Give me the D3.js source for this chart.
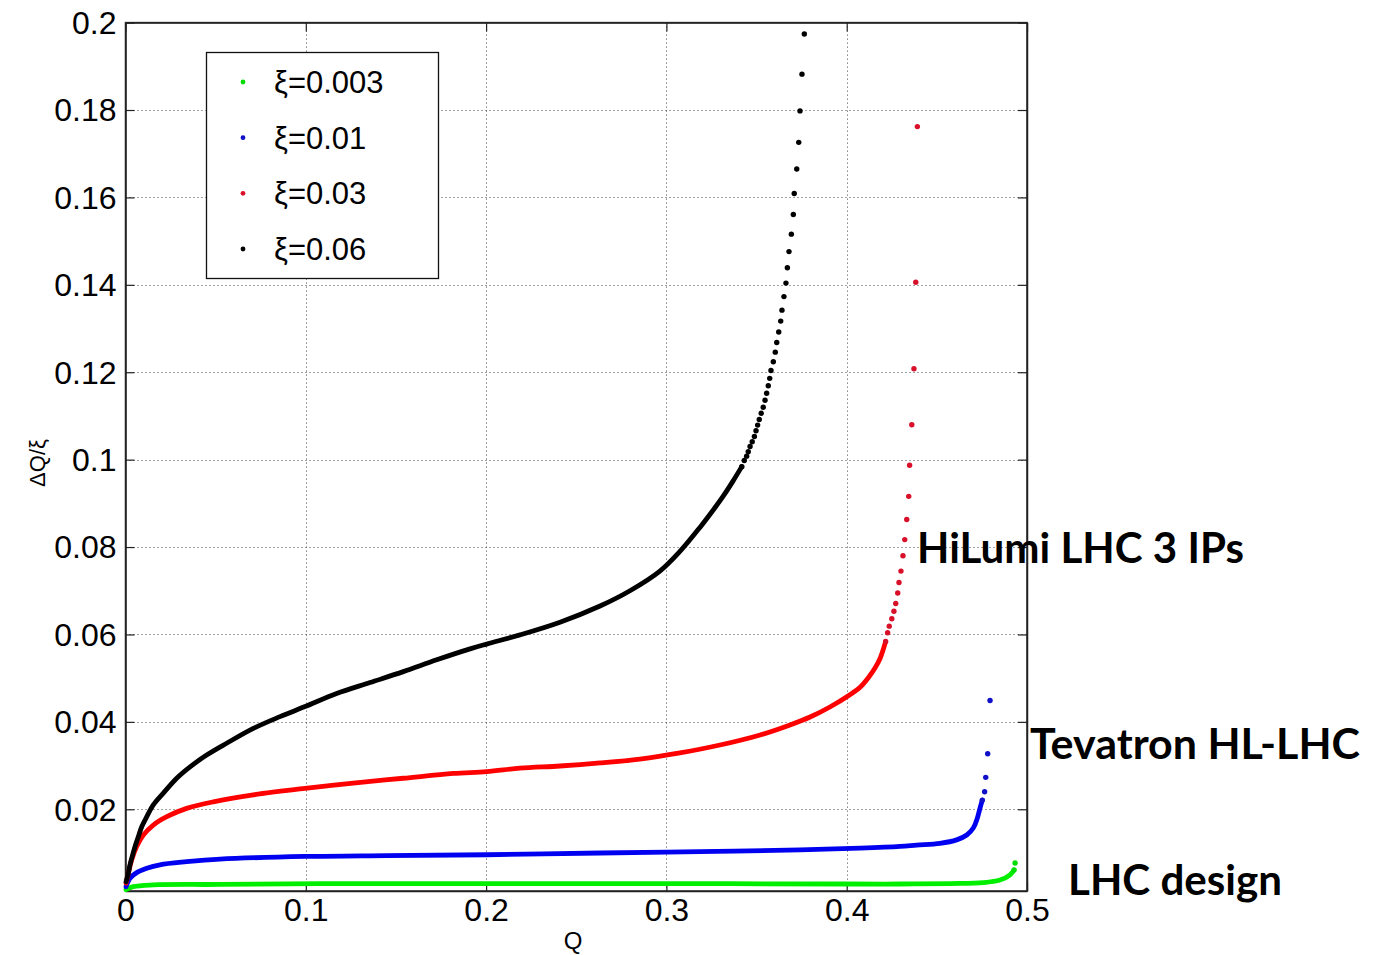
<!DOCTYPE html>
<html>
<head>
<meta charset="utf-8">
<script src="https://cdn.jsdelivr.net/npm/d3@7"></script>
<style>
  html, body { margin: 0; padding: 0; background: #fff; }
  svg { display: block; }
</style>
</head>
<body>
<svg id="chart" width="1376" height="955"></svg>
<script>
// ---------------- data ----------------
const xTicks = [0, 0.1, 0.2, 0.3, 0.4, 0.5];
const xTickLabels = ["0", "0.1", "0.2", "0.3", "0.4", "0.5"];
const yTicks = [0.02, 0.04, 0.06, 0.08, 0.1, 0.12, 0.14, 0.16, 0.18, 0.2];
const yTickLabels = ["0.02", "0.04", "0.06", "0.08", "0.1", "0.12", "0.14", "0.16", "0.18", "0.2"];
const seriesNames = ["ξ=0.003", "ξ=0.01", "ξ=0.03", "ξ=0.06"];
const annotations = ["HiLumi LHC 3 IPs", "Tevatron HL-LHC", "LHC design"];

// [Q, ΔQ] pairs — dense part (continuous band of points)
const xi003Line = [[0.0003,0.0016],[0.0043,0.0023],[0.0154,0.0027],[0.0524,0.0028],[0.108,0.0030],[0.2,0.0030],[0.3,0.0030],[0.4,0.0029],[0.4296,0.0029],[0.4573,0.0030],[0.4758,0.0032],[0.4850,0.0038],[0.4906,0.0050],[0.4928,0.0061]];
const xi003Dots = [[0.4934,0.0077]];

const xi01Line = [[0.0003,0.0023],[0.0025,0.0042],[0.0062,0.0055],[0.0118,0.0065],[0.0191,0.0073],[0.0339,0.0080],[0.0524,0.0086],[0.0996,0.0092],[0.1449,0.0094],[0.2003,0.0096],[0.2632,0.0100],[0.3186,0.0103],[0.3741,0.0107],[0.4074,0.0111],[0.4296,0.0115],[0.4388,0.0118],[0.4517,0.0122],[0.4610,0.0130],[0.4666,0.0141],[0.4702,0.0157],[0.4724,0.0179],[0.4739,0.0202],[0.4752,0.0221]];
const xi01Dots = [[0.4765,0.0240],[0.4771,0.0273],[0.4782,0.0327],[0.4795,0.0449]];

const xi03Line = [[0.0003,0.0031],[0.0016,0.0054],[0.0034,0.0084],[0.0062,0.0115],[0.0099,0.0141],[0.0154,0.0164],[0.0229,0.0183],[0.0339,0.0202],[0.0487,0.0217],[0.0709,0.0233],[0.0996,0.0248],[0.1263,0.0260],[0.1541,0.0271],[0.1818,0.0282],[0.2003,0.0286],[0.2188,0.0294],[0.241,0.0299],[0.2632,0.0306],[0.2853,0.0315],[0.3075,0.0329],[0.3297,0.0347],[0.352,0.0370],[0.3686,0.0393],[0.3797,0.0411],[0.3907,0.0434],[0.4018,0.0462],[0.4074,0.0479],[0.4120,0.0501],[0.4157,0.0523],[0.4185,0.0545],[0.4203,0.0566],[0.4216,0.0584]];
const xi03Dots = [[0.4227,0.0604],[0.4236,0.0619],[0.4250,0.0636],[0.4262,0.0653],[0.4272,0.0671],[0.4283,0.0695],[0.4290,0.0719],[0.4301,0.0745],[0.4312,0.0780],[0.4322,0.0817],[0.4333,0.0863],[0.4344,0.0916],[0.4349,0.0987],[0.4361,0.1080],[0.4373,0.1208],[0.4383,0.1406],[0.4392,0.1762]];

const xi06Line = [[0.0003,0.0034],[0.0016,0.0054],[0.0025,0.0073],[0.0040,0.0096],[0.0053,0.0115],[0.0071,0.0137],[0.0090,0.0160],[0.0118,0.0183],[0.0154,0.0210],[0.0210,0.0237],[0.0284,0.0271],[0.0358,0.0297],[0.0450,0.0324],[0.0561,0.0351],[0.0709,0.0385],[0.0857,0.0412],[0.0996,0.0435],[0.1171,0.0465],[0.1356,0.0490],[0.1541,0.0515],[0.1726,0.0542],[0.1911,0.0567],[0.2003,0.0578],[0.2188,0.0599],[0.241,0.0628],[0.2632,0.0665],[0.2798,0.0700],[0.2964,0.0745],[0.3075,0.0790],[0.3186,0.0845],[0.3269,0.0890],[0.3316,0.0917],[0.3371,0.0952],[0.3418,0.0984]];
const xi06Dots = [[0.3432,0.0998],[0.3445,0.1008],[0.3454,0.1018],[0.3464,0.1030],[0.3476,0.1041],[0.3488,0.1053],[0.3497,0.1066],[0.3506,0.1079],[0.3515,0.1092],[0.3526,0.1106],[0.3537,0.1120],[0.3547,0.1136],[0.3556,0.1152],[0.3565,0.1169],[0.3573,0.1186],[0.3580,0.1204],[0.3593,0.1224],[0.3604,0.1246],[0.3612,0.1268],[0.3623,0.1292],[0.3634,0.1317],[0.3641,0.1342],[0.3652,0.1373],[0.3663,0.1404],[0.3671,0.1439],[0.3680,0.1476],[0.3693,0.1516],[0.3704,0.1561],[0.3709,0.1609],[0.3723,0.1665],[0.3734,0.1726],[0.3741,0.1798],[0.3752,0.1882],[0.3765,0.1974]];

const seriesColors = ["#00ee00", "#0000f0", "#ff0000", "#000000"];
const dotColors = ["#00dd00", "#1010c8", "#d8102a", "#000000"];

// ---------------- layout ----------------
const svg = d3.select("#chart");
const L = 125.5, R = 1027, T = 22.6, B = 891;
const x = d3.scaleLinear().domain([0, 0.5]).range([L, R]);
const y = d3.scaleLinear().domain([0.0013, 0.2]).range([B, T]);

const tickFont = "'Liberation Sans', Arial, sans-serif";

// grid
const grid = svg.append("g").attr("stroke", "#444").attr("stroke-width", 1)
  .attr("stroke-dasharray", "1,3");
grid.selectAll("line.gx").data(xTicks.slice(1, -1)).join("line")
  .attr("x1", d => Math.round(x(d)) + 0.5).attr("x2", d => Math.round(x(d)) + 0.5)
  .attr("y1", T).attr("y2", B);
grid.selectAll("line.gy").data(yTicks.slice(0, -1)).join("line")
  .attr("x1", L).attr("x2", R)
  .attr("y1", d => Math.round(y(d)) + 0.5).attr("y2", d => Math.round(y(d)) + 0.5);

// axes (MATLAB-style: ticks inward, box)
const axisColor = "#222";
const xAxisB = d3.axisBottom(x).tickValues(xTicks).tickSizeInner(-9).tickSizeOuter(0)
  .tickFormat((d, i) => xTickLabels[i]).tickPadding(7);
const gxb = svg.append("g").attr("transform", `translate(0,${B})`).call(xAxisB);
const xAxisT = d3.axisTop(x).tickValues(xTicks).tickSizeInner(-9).tickSizeOuter(0).tickFormat("");
const gxt = svg.append("g").attr("transform", `translate(0,${T})`).call(xAxisT);
const yAxisL = d3.axisLeft(y).tickValues(yTicks).tickSizeInner(-9).tickSizeOuter(0)
  .tickFormat((d, i) => yTickLabels[i]).tickPadding(9);
const gyl = svg.append("g").attr("transform", `translate(${L},0)`).call(yAxisL);
const yAxisR = d3.axisRight(y).tickValues(yTicks).tickSizeInner(-9).tickSizeOuter(0).tickFormat("");
const gyr = svg.append("g").attr("transform", `translate(${R},0)`).call(yAxisR);

[gxb, gxt, gyl, gyr].forEach(g => {
  g.select(".domain").attr("stroke", axisColor).attr("stroke-width", 1.5);
  g.selectAll(".tick line").attr("stroke", axisColor).attr("stroke-width", 1.2);
  g.selectAll("text").attr("fill", "#000").attr("font-family", tickFont).attr("font-size", 32);
});
gyl.selectAll("text").attr("dy", "0.34em");
gxb.selectAll("text").attr("dy", "0.71em");
svg.append("rect").attr("x", L).attr("y", T).attr("width", R - L).attr("height", B - T)
  .attr("fill", "none").attr("stroke", axisColor).attr("stroke-width", 1.5);

// axis labels
svg.append("text").attr("x", 573).attr("y", 949).attr("text-anchor", "middle")
  .attr("font-family", tickFont).attr("font-size", 24).text("Q");
svg.append("text").attr("transform", "translate(45,463) rotate(-90)").attr("text-anchor", "middle")
  .attr("font-family", tickFont).attr("font-size", 22).text("ΔQ/ξ");

// series
const lines = [xi003Line, xi01Line, xi03Line, xi06Line];
const dots = [xi003Dots, xi01Dots, xi03Dots, xi06Dots];
const lineGen = d3.line().x(d => x(d[0])).y(d => y(d[1])).curve(d3.curveCatmullRom.alpha(0.5));

const plot = svg.append("g");
lines.forEach((data, i) => {
  plot.append("path").datum(data).attr("d", lineGen)
    .attr("fill", "none").attr("stroke", seriesColors[i]).attr("stroke-width", 4.8)
    .attr("stroke-linejoin", "round").attr("stroke-linecap", "round");
});
dots.forEach((data, i) => {
  plot.append("g").selectAll("circle").data(data.concat([lines[i][lines[i].length - 1]])).join("circle")
    .attr("cx", d => x(d[0])).attr("cy", d => y(d[1])).attr("r", 2.7)
    .attr("fill", dotColors[i]);
});

// legend
const lg = svg.append("g");
lg.append("rect").attr("x", 206.5).attr("y", 52.5).attr("width", 232).attr("height", 226)
  .attr("fill", "#fff").attr("stroke", "#111").attr("stroke-width", 1.3);
const legendY = d3.scalePoint().domain(seriesNames).range([82, 249]);
seriesNames.forEach((name, i) => {
  lg.append("circle").attr("cx", 243).attr("cy", legendY(name)).attr("r", 2.4).attr("fill", dotColors[i]);
  lg.append("text").attr("x", 274).attr("y", legendY(name)).attr("dy", "0.36em")
    .attr("font-family", tickFont).attr("font-size", 31).attr("fill", "#000").text(name);
});

// annotations
const annFont = "Lato, 'Open Sans', 'Liberation Sans', sans-serif";
const annPos = [
  {x: 917, y: 563, w: 327},
  {x: 1030, y: 759, w: 330},
  {x: 1068, y: 895, w: 214}
];
annotations.forEach((t, i) => {
  svg.append("text").attr("x", annPos[i].x).attr("y", annPos[i].y)
    .attr("font-family", annFont).attr("font-weight", "bold").attr("font-size", 42)
    .attr("fill", "#000")
    .attr("textLength", annPos[i].w).attr("lengthAdjust", "spacingAndGlyphs")
    .text(t);
});
</script>
</body>
</html>
